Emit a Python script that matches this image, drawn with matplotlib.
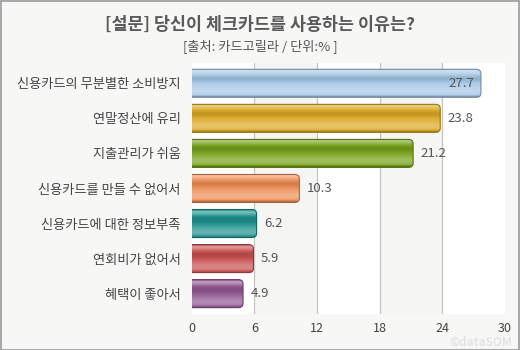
import matplotlib.pyplot as plt
import numpy as np
from matplotlib.patches import FancyBboxPatch, Rectangle
from matplotlib.colors import to_rgb

plt.rcParams['font.family'] = ['Noto Sans CJK KR', 'DejaVu Sans']

categories = ['신용카드의 무분별한 소비방지', '연말정산에 유리', '지출관리가 쉬움',
              '신용카드를 만들 수 없어서', '신용카드에 대한 정보부족',
              '연회비가 없어서', '혜택이 좋아서']
values = [27.7, 23.8, 21.2, 10.3, 6.2, 5.9, 4.9]
colors = ['#a8c8e6', '#dcaa28', '#78a21c', '#ee9058', '#22928f', '#c95252', '#935a93']
ticks = [0, 6, 12, 18, 24, 30]

fig = plt.figure(figsize=(5.2, 3.5), dpi=100)
fig.patch.set_facecolor('#f7f7f6')
fig.patches.append(Rectangle((0.001, 0.001), 0.997, 0.996, transform=fig.transFigure,
                             fill=False, edgecolor='#9a9a9a', linewidth=1.2))

fig.text(0.5, 0.93, '[설문] 당신이 체크카드를 사용하는 이유는?', ha='center', va='center',
         fontsize=12.5, fontweight='bold', color='#5a5a5a')
fig.text(0.5, 0.868, '[출처: 카드고릴라 / 단위:% ]', ha='center', va='center',
         fontsize=9.5, color='#555555')

ax = fig.add_axes([0.369, 0.103, 0.602, 0.717])
ax.set_facecolor('white')
for s in ax.spines.values():
    s.set_visible(False)

# alternating background bands
for i in range(len(ticks) - 1):
    if i % 2 == 1:
        ax.axvspan(ticks[i], ticks[i + 1], color='#f5f5f3', zorder=0, linewidth=0)
for t in ticks[1:-1]:
    ax.axvline(t, color='#c4c4c0', linewidth=0.9, zorder=1)

# vertical shading profile for a glossy bar look
prof = np.array([-0.25, 0.45, 0.25, 0.0, -0.12, -0.1, 0.0, 0.1, 0.2, 0.28, 0.3, 0.15, -0.3])
yy = np.linspace(0, 1, 60)
shade = np.interp(yy, np.linspace(0, 1, len(prof)), prof)

h = 0.8
for i, (v, c) in enumerate(zip(values, colors)):
    base = np.array(to_rgb(c))
    rows = []
    for s in shade:
        if s >= 0:
            rows.append(base + (1 - base) * s)
        else:
            rows.append(base * (1 + s))
    img = np.array(rows)[:, None, :]
    patch = FancyBboxPatch((-1, i - h / 2), v + 1, h,
                           boxstyle='round,pad=0,rounding_size=0.45',
                           mutation_aspect=0.27, facecolor='none',
                           edgecolor=tuple(base * 0.7), linewidth=0.8, zorder=3)
    ax.add_patch(patch)
    im = ax.imshow(img, extent=(-1, v, i + h / 2, i - h / 2), aspect='auto',
                   origin='upper', zorder=2, interpolation='bilinear')
    im.set_clip_path(patch)
    if i == 0:
        ax.text(v - 0.6, i, f'{v}', ha='right', va='center', fontsize=9.5,
                color='#555555', zorder=4)
    else:
        ax.text(v + 0.7, i, f'{v}', ha='left', va='center', fontsize=9.5,
                color='#555555', zorder=4)

ax.set_xlim(0, 30)
ax.set_ylim(6.58, -0.58)
ax.set_yticks(range(len(categories)))
ax.set_yticklabels(categories, fontsize=9.5, color='#444444')
ax.set_xticks(ticks)
ax.set_xticklabels([str(t) for t in ticks], fontsize=9, color='#444444')
ax.tick_params(axis='x', length=0, pad=6)
ax.tick_params(axis='y', length=0, pad=8)

fig.text(0.925, 0.022, '©dataSOM', ha='center', va='center', fontsize=8.5,
         color='#e4e4e4', fontweight='bold')

fig.savefig('out.png', dpi=100, facecolor=fig.get_facecolor())
